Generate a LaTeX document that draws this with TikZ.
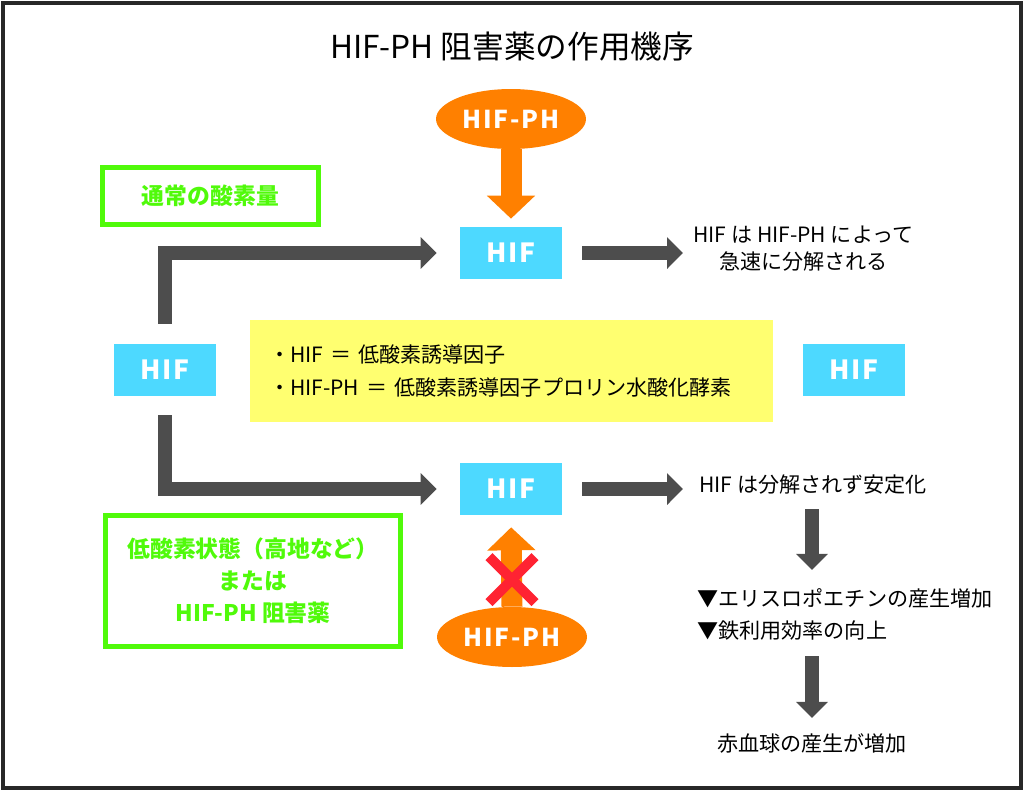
\documentclass[tikz,border=0pt]{standalone}
\usepackage{fontspec}
\usepackage{xcolor}
\usepackage{tikz}
\usetikzlibrary{arrows.meta, positioning, shapes.geometric, calc}

\newfontfamily\jpfont{Noto Sans CJK JP}
\newfontfamily\jpwide{Noto Sans CJK JP}[LetterSpace=8]

\definecolor{hifblue}{RGB}{77,217,255}
\definecolor{phorange}{RGB}{255,128,0}
\definecolor{okgreen}{RGB}{80,250,10}
\definecolor{notecolor}{RGB}{255,255,112}
\definecolor{arrowgray}{RGB}{77,77,77}
\definecolor{crossred}{RGB}{255,35,50}
\definecolor{framegray}{RGB}{40,40,40}

\tikzset{
	hifbox/.style={
		rectangle,
		fill=hifblue,
		minimum width=2.04cm,
		minimum height=1.04cm,
		inner sep=0,
		text=white,
		font=\jpwide\bfseries\fontsize{15pt}{15pt}\selectfont
	},
	phoval/.style={
		ellipse,
		fill=phorange,
		minimum width=3cm,
		minimum height=1.2cm,
		inner sep=0,
		text=white,
		font=\jpwide\bfseries\fontsize{14pt}{14pt}\selectfont
	},
	greenbox/.style={
		rectangle,
		draw=okgreen,
		line width=0.1cm,
		text=okgreen,
		inner sep=0,
		align=center,
		font=\jpfont\bfseries\fontsize{13pt}{18.2pt}\selectfont
	},
	note/.style={
		inner sep=0,
		align=center,
		font=\jpfont\fontsize{12pt}{15.4pt}\selectfont
	},
	grayarrow/.style={
		draw=arrowgray,
		line width=0.28cm,
		-{Triangle[width=0.62cm,length=0.32cm]}
	},
	orangearrow/.style={
		draw=phorange,
		line width=0.42cm,
		-{Triangle[width=0.94cm,length=0.46cm]}
	},
	crossline/.style={
		draw=crossred,
		line width=0.2cm
	}
}

\begin{document}
\begin{tikzpicture}[x=0.02cm, y=-0.02cm]
	\useasboundingbox (0,0) rectangle (1024,791);
	% Rahmen
	\draw[
		line width=0.08cm,
		color=framegray
	] (3,3) rectangle (1021,788);

	% Titel
	\node[
		inner sep=0,
		font=\jpfont\fontsize{18pt}{18pt}\selectfont
	] (title) at (512,47) {HIF-PH 阻害薬の作用機序};

	% HIF boxes
	\node[hifbox] (hifL) at (165,369.5) {HIF};
	\node[hifbox] (hifT) at (511,253)   {HIF};
	\node[hifbox] (hifB) at (511,489)   {HIF};
	\node[hifbox] (hifR) at (854,370)   {HIF};

	% HIF-PH
	\node[phoval] (phT) at (511,119) {HIF-PH};
	\node[phoval] (phB) at (512,637) {HIF-PH};

	% Bedingungen
	\node[
		greenbox,
		minimum width=4.32cm,
		minimum height=1.14cm
	] (normal) at (210.5,196) {通常の酸素量};
	\node[
		greenbox,
		minimum width=5.9cm,
		minimum height=2.62cm
	] (hypoxia) at (253,581) {低酸素状態（高地など）\\または\\HIF-PH 阻害薬};

	% Erklärung
	\node[
		rectangle,
		fill=notecolor,
		minimum width=10.46cm,
		minimum height=2.04cm,
		inner sep=0,
		text width=9.7cm,
		align=left,
		font=\jpfont\fontsize{12pt}{18.8pt}\selectfont
	] (legend) at (511.5,371) {・HIF ＝ 低酸素誘導因子\\・HIF-PH ＝ 低酸素誘導因子プロリン水酸化酵素};

	% Folgen
	\node[note, anchor=west] (fast)   at (693,249) {HIF は HIF-PH によって\\急速に分解される};
	\node[note, anchor=west] (stable) at (699,485) {HIF は分解されず安定化};
	\node[
		note,
		anchor=west,
		align=left,
		font=\jpfont\fontsize{12pt}{18.2pt}\selectfont
	] (effects) at (697,614) {▼エリスロポエチンの産生増加\\▼鉄利用効率の向上};
	\node[note] (rbc) at (812,743) {赤血球の産生が増加};

	% Pfeile
	\draw[grayarrow, shorten <=0.39cm, shorten >=0.46cm] (hifL.north) |- (hifT.west);
	\draw[grayarrow, shorten <=0.39cm, shorten >=0.46cm] (hifL.south) |- (hifB.west);
	\draw[grayarrow, shorten <=0.4cm, shorten >=0.2cm]   (hifT.east) -- (fast.west |- hifT.east);
	\draw[grayarrow, shorten <=0.4cm, shorten >=0.32cm]  (hifB.east) -- (stable.west |- hifB.east);
	\draw[grayarrow, shorten <=0.28cm, shorten >=0.36cm] (rbc.north |- stable.south) -- (rbc.north |- effects.north);
	\draw[grayarrow, shorten <=0.32cm, shorten >=0.3cm]  (rbc.north |- effects.south) -- (rbc.north);
	\draw[orangearrow, shorten >=0.16cm] (phT.south) -- (hifT.north);
	\draw[orangearrow, shorten >=0.24cm] (phB.north) -- (hifB.south);

	% Kreuz
	\coordinate (block) at ($(phB.north)+(0,-27)$);
	\draw[crossline] ($(block)+(-23,-23)$) -- ($(block)+(23,23)$);
	\draw[crossline] ($(block)+(-23,23)$) -- ($(block)+(23,-23)$);
\end{tikzpicture}
\end{document}
